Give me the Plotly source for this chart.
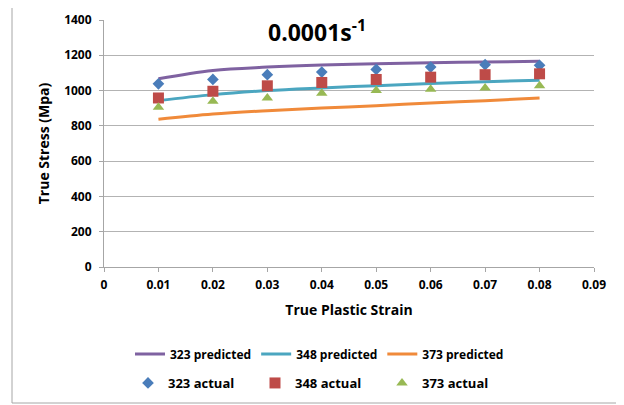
import plotly.graph_objects as go

strain = [0.01, 0.02, 0.03, 0.04, 0.05, 0.06, 0.07, 0.08]

pred_323 = [1067, 1114, 1133, 1145, 1152, 1158, 1162, 1166]
pred_348 = [943, 977, 1000, 1015, 1028, 1040, 1050, 1059]
pred_373 = [838, 867, 886, 901, 914, 930, 943, 958]

act_323 = [1038, 1063, 1090, 1105, 1120, 1133, 1147, 1143]
act_348 = [958, 996, 1027, 1046, 1063, 1076, 1090, 1095]
act_373 = [905, 939, 958, 985, 1000, 1008, 1015, 1027]

x_ticks = [0, 0.01, 0.02, 0.03, 0.04, 0.05, 0.06, 0.07, 0.08, 0.09]
x_tick_labels = ["0", "0.01", "0.02", "0.03", "0.04", "0.05", "0.06", "0.07", "0.08", "0.09"]
y_ticks = [0, 200, 400, 600, 800, 1000, 1200, 1400]

FONT = "Open Sans"

# page has an 8px body margin; figure sized/margined to compensate
W, H = 616, 397
L, R, T, B = 96, 30, 12, 138
PW, PH = W - L - R, H - T - B

fig = go.Figure()
for name, ys, col in [("323 predicted", pred_323, "#7F62A1"),
                      ("348 predicted", pred_348, "#4BA6C0"),
                      ("373 predicted", pred_373, "#F08A3A")]:
    fig.add_trace(go.Scatter(x=strain, y=ys, mode="lines", name=name,
                             line=dict(color=col, width=3, shape="spline"),
                             legend="legend"))
for name, ys, col, sym, sz in [("323 actual", act_323, "#4A7DBA", "diamond", 9),
                               ("348 actual", act_348, "#BE4B48", "square", 11),
                               ("373 actual", act_373, "#98B954", "triangle-up", 10)]:
    fig.add_trace(go.Scatter(x=strain, y=ys, mode="markers", name=name,
                             marker=dict(color=col, symbol=sym, size=sz),
                             legend="legend2"))

axis_common = dict(showline=True, linecolor="#a6a6a6", linewidth=1,
                   ticks="outside", ticklen=4, tickcolor="#a6a6a6",
                   tickfont=dict(family=FONT, size=12, color="#000", weight="bold"),
                   zeroline=False, automargin=False)

fig.update_layout(
    width=W, height=H,
    margin=dict(l=L, r=R, t=T, b=B, autoexpand=False),
    paper_bgcolor="white", plot_bgcolor="white",
    showlegend=True,
    xaxis=dict(range=[0, 0.09], tickvals=x_ticks, ticktext=x_tick_labels,
               showgrid=False, ticklabelstandoff=3,
               title=dict(text="True Plastic Strain", standoff=12,
                          font=dict(family=FONT, size=14, color="#000", weight="bold")),
               **axis_common),
    yaxis=dict(range=[0, 1400], tickvals=y_ticks, showgrid=True,
               gridcolor="#b3b3b3", gridwidth=1, ticklabelstandoff=5,
               title=dict(text="True Stress (Mpa)", standoff=11,
                          font=dict(family=FONT, size=14, color="#000", weight="bold")),
               **axis_common),
    legend=dict(orientation="h", x=(122 - L) / PW, xanchor="left",
                y=(T + PH - 346) / PH, yanchor="middle",
                font=dict(family=FONT, size=12, color="#000", weight="bold"),
                itemwidth=30, bgcolor="rgba(0,0,0,0)"),
    legend2=dict(orientation="h", x=(120 - L) / PW, xanchor="left",
                 y=(T + PH - 375) / PH, yanchor="middle",
                 font=dict(family=FONT, size=13, color="#000", weight="bold"),
                 entrywidth=82, itemwidth=30, bgcolor="rgba(0,0,0,0)"),
    annotations=[dict(text="<b>0.0001s<sup>-1</sup></b>", x=(309 - L) / PW,
                      y=(T + PH - 23) / PH,
                      xref="paper", yref="paper", xanchor="center", yanchor="middle",
                      showarrow=False,
                      font=dict(family=FONT, size=23, color="#000"))],
    shapes=[dict(type="rect", xref="paper", yref="paper",
                 x0=(4 - L) / PW, x1=1 + 60 / PW,
                 y0=(T + PH - 395) / PH, y1=1 + 40 / PH,
                 line=dict(color="#a6a6a6", width=1), fillcolor="rgba(0,0,0,0)",
                 layer="below")],
)

fig.write_html("out.html")
